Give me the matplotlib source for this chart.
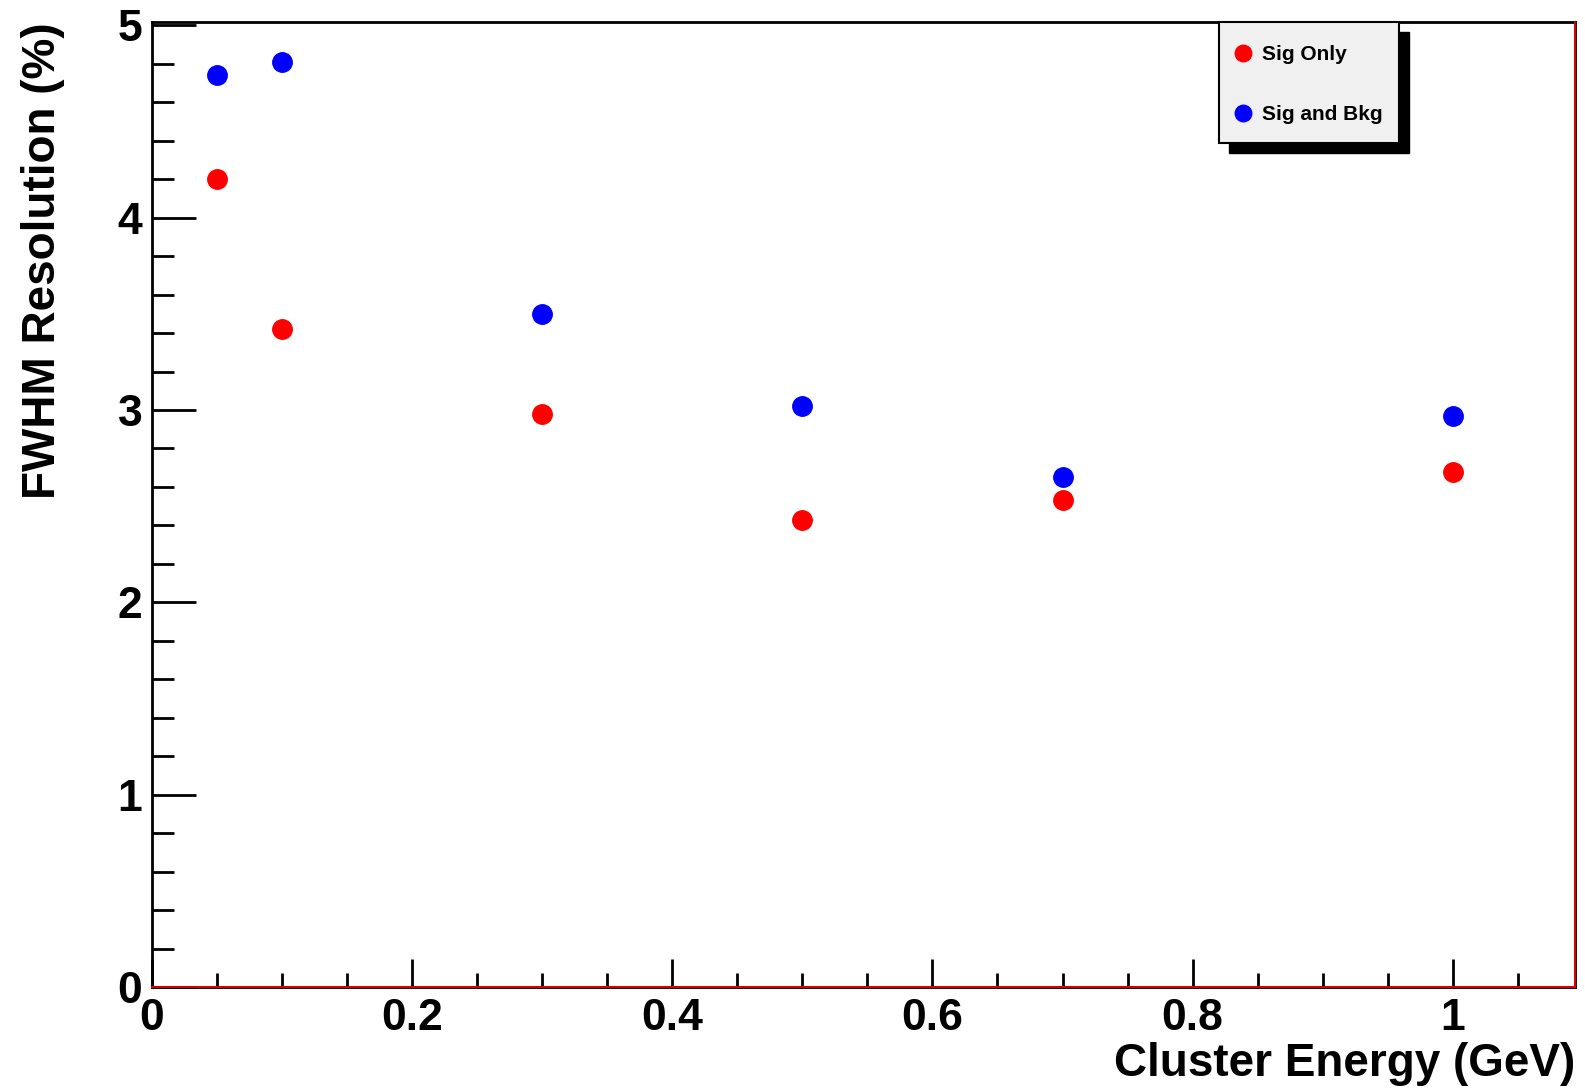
import matplotlib
matplotlib.use("Agg")
import matplotlib.pyplot as plt
from matplotlib.patches import Rectangle
from matplotlib.ticker import MultipleLocator

plt.rcParams['font.family'] = ['Liberation Sans', 'DejaVu Sans']
plt.rcParams['font.weight'] = 'bold'

# cluster energy (GeV) and FWHM resolution (%)
energy = [0.05, 0.1, 0.3, 0.5, 0.7, 1.0]
sig_only = [4.20, 3.42, 2.98, 2.43, 2.53, 2.68]
sig_bkg = [4.74, 4.81, 3.50, 3.02, 2.65, 2.97]

fig = plt.figure(figsize=(15.85, 10.9), dpi=100)
ax = fig.add_axes([0.0959, 0.0945, 0.8978, 0.8853])

ax.plot(energy, sig_only, 'o', color='#ff0000', markersize=14, label='Sig Only', zorder=5)
ax.plot(energy, sig_bkg, 'o', color='#0000ff', markersize=14, label='Sig and Bkg', zorder=5)

ax.set_xlim(0, 1.094)
ax.set_ylim(0, 5.017)
ax.xaxis.set_major_locator(MultipleLocator(0.2))
ax.xaxis.set_minor_locator(MultipleLocator(0.05))
ax.yaxis.set_major_locator(MultipleLocator(1))
ax.yaxis.set_minor_locator(MultipleLocator(0.2))
ax.xaxis.set_major_formatter(plt.FuncFormatter(lambda v, p: '%g' % round(v, 2)))
ax.yaxis.set_major_formatter(plt.FuncFormatter(lambda v, p: '%g' % v))

ax.tick_params(which='both', direction='in', width=2, colors='black', labelsize=32)
ax.tick_params(axis='x', which='major', length=20, pad=8)
ax.tick_params(axis='x', which='minor', length=10)
ax.tick_params(axis='y', which='major', length=32, pad=7)
ax.tick_params(axis='y', which='minor', length=16)
for lab in ax.get_xticklabels() + ax.get_yticklabels():
    lab.set_fontweight('bold')

for s in ax.spines.values():
    s.set_linewidth(2)
ax.axhline(0, color='red', lw=1.2, zorder=6, clip_on=False)
ax.axvline(1.094, color='red', lw=1.2, zorder=6, clip_on=False)

ax.set_xlabel('Cluster Energy (GeV)', fontsize=33, fontweight='bold', loc='right', labelpad=2)
ax.set_ylabel('FWHM Resolution (%)', fontsize=33, fontweight='bold', loc='top', labelpad=38)

# legend box with ROOT-style shadow
W, H = 1585.0, 1090.0
bx0, bx1, by0, by1 = 1219, 1399, 22, 143
fig.patches.append(Rectangle(((bx0 + 10) / W, 1 - (by1 + 10) / H), (bx1 - bx0) / W, (by1 - by0) / H,
                             transform=fig.transFigure, facecolor='black', edgecolor='black', zorder=8))
fig.patches.append(Rectangle((bx0 / W, 1 - by1 / H), (bx1 - bx0) / W, (by1 - by0) / H,
                             transform=fig.transFigure, facecolor='#f0f0f0', edgecolor='black',
                             linewidth=1.5, zorder=9))
leg = fig.legend(loc='upper left', bbox_to_anchor=(1224 / W, 1 - 35 / H), frameon=False,
                 prop={'size': 15, 'weight': 'bold'}, handlelength=0.8, handletextpad=0.5,
                 labelspacing=1.95, borderpad=0, markerscale=0.85)
leg.set_zorder(10)

fig.savefig('out.png', dpi=100)
